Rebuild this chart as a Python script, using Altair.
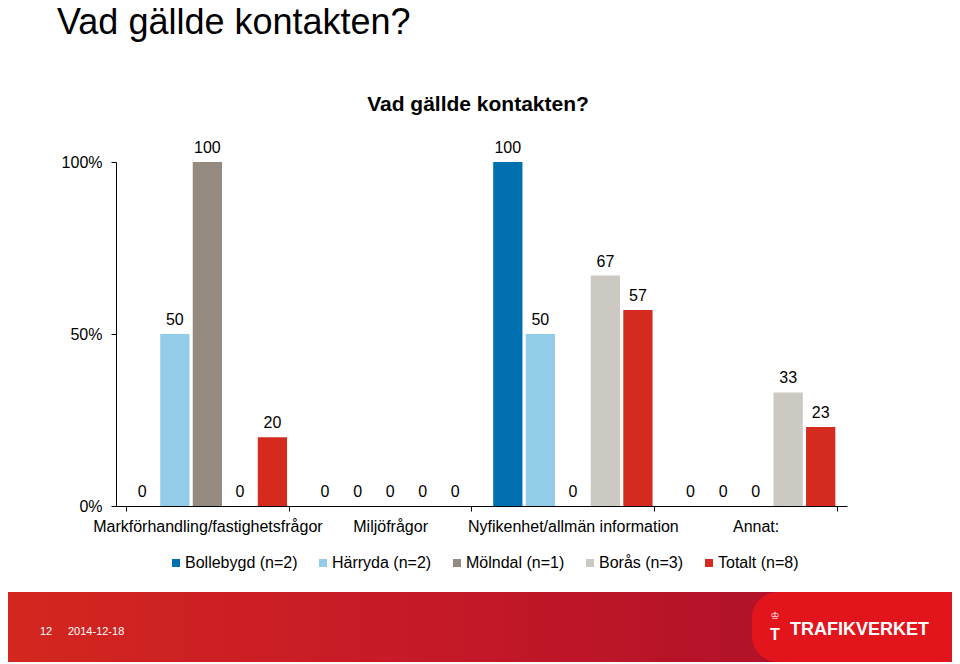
import altair as alt
import pandas as pd

categories = ["Markförhandling/fastighetsfrågor", "Miljöfrågor",
              "Nyfikenhet/allmän information", "Annat:"]
series = ["Bollebygd (n=2)", "Härryda (n=2)", "Mölndal (n=1)", "Borås (n=3)", "Totalt (n=8)"]
colors = ["#0070B0", "#93CCE8", "#948A80", "#CCC8C2", "#D52B1E"]

bollebygd = [0, 0, 100, 0]
harryda = [50, 0, 50, 0]
molndal = [100, 0, 0, 0]
boras = [0, 0, 67, 33]
totalt = [20, 0, 57, 23]

rows = []
for s, vals in zip(series, [bollebygd, harryda, molndal, boras, totalt]):
    for c, v in zip(categories, vals):
        rows.append({"kategori": c, "serie": s, "värde": v})
df = pd.DataFrame(rows)

FONT = "Liberation Sans, Arial, sans-serif"

x_enc = alt.X("kategori:N", sort=categories, title=None,
              scale=alt.Scale(paddingInner=0.11, paddingOuter=0.055),
              axis=alt.Axis(tickBand="extent", labelAngle=0, domainColor="black",
                            tickColor="black", tickSize=5, labelFontSize=16,
                            labelColor="black", labelFont=FONT, labelPadding=7,
                            labelLimit=400))
xo_enc = alt.XOffset("serie:N", sort=series,
                     scale=alt.Scale(paddingInner=0.1, paddingOuter=0.05))
y_enc = alt.Y("värde:Q", title=None,
              scale=alt.Scale(domain=[0, 100], nice=False),
              axis=alt.Axis(values=[0, 50, 100], labelExpr="datum.value + '%'",
                            grid=False, domainColor="black", tickColor="black",
                            tickSize=5, labelFontSize=16, labelColor="black",
                            labelFont=FONT, labelPadding=9))

bars = alt.Chart(df).mark_bar().encode(
    x=x_enc, xOffset=xo_enc, y=y_enc,
    color=alt.Color("serie:N", sort=series,
                    scale=alt.Scale(domain=series, range=colors),
                    legend=alt.Legend(title=None, orient="none", direction="horizontal",
                                      legendX=52, legendY=393, symbolType="square",
                                      symbolSize=64, symbolStrokeWidth=0,
                                      labelFontSize=16, labelFont=FONT,
                                      labelColor="black", columnPadding=17,
                                      symbolOffset=0, labelOffset=1,
                                      labelLimit=300)),
)

labels = alt.Chart(df).mark_text(baseline="alphabetic", dy=-9, fontSize=16,
                                 font=FONT, color="black").encode(
    x=alt.X("kategori:N", sort=categories), xOffset=xo_enc,
    y="värde:Q", text=alt.Text("värde:Q"),
)

dummy = pd.DataFrame({"d": [0]})

grad = alt.LinearGradient(
    gradient="linear", x1=0, x2=1, y1=0, y2=0,
    stops=[alt.GradientStop(color="#D3271F", offset=0),
           alt.GradientStop(color="#C81A27", offset=0.4),
           alt.GradientStop(color="#A80E2A", offset=1)])

footer = alt.Chart(dummy).mark_rect(color=grad).encode(
    x=alt.value(-108), x2=alt.value(836), y=alt.value(430), y2=alt.value(500))

logo_bg = alt.Chart(dummy).mark_rect(color="#E3151C", cornerRadiusTopLeft=26,
                                     cornerRadiusBottomLeft=26).encode(
    x=alt.value(636), x2=alt.value(836), y=alt.value(430), y2=alt.value(500))

logo_txt = alt.Chart(dummy).mark_text(
    text="TRAFIKVERKET", font=FONT,
    fontWeight="bold", fontSize=18, color="white", align="left", baseline="middle").encode(
    x=alt.value(674), y=alt.value(468))

logo_crown = alt.Chart(dummy).mark_text(
    text="♔", font="DejaVu Sans", fontSize=10, color="white",
    align="center", baseline="middle").encode(
    x=alt.value(659), y=alt.value(454))

logo_icon = alt.Chart(dummy).mark_text(
    text="T", font=FONT, fontWeight="bold", fontSize=16, color="white",
    align="center", baseline="middle").encode(
    x=alt.value(659), y=alt.value(473))

foot_num = alt.Chart(dummy).mark_text(
    text="12", font=FONT, fontSize=11, color="white",
    align="left", baseline="middle").encode(
    x=alt.value(-76), y=alt.value(470))

foot_date = alt.Chart(dummy).mark_text(
    text="2014-12-18", font=FONT, fontSize=11, color="white",
    align="left", baseline="middle").encode(
    x=alt.value(-48), y=alt.value(470))

slide_title = alt.Chart(dummy).mark_text(
    text="Vad gällde kontakten?", font=FONT, fontSize=36, color="black",
    align="left", baseline="alphabetic").encode(
    x=alt.value(-59), y=alt.value(-128))

chart_title = alt.Chart(dummy).mark_text(
    text="Vad gällde kontakten?", font=FONT, fontSize=21, fontWeight="bold",
    color="black", align="center", baseline="alphabetic").encode(
    x=alt.value(362), y=alt.value(-51))

chart = alt.layer(footer, logo_bg, logo_txt, logo_crown, logo_icon, foot_num, foot_date,
                  slide_title, chart_title, bars, labels).properties(
    width=731, height=344,
    autosize=alt.AutoSizeParams(type="none"),
    padding={"left": 108, "top": 154, "right": 105, "bottom": 156},
).configure_view(stroke=None).configure_axis(domainWidth=1, tickWidth=1)

chart.save("out.html", embed_options={"renderer": "svg", "actions": False})
